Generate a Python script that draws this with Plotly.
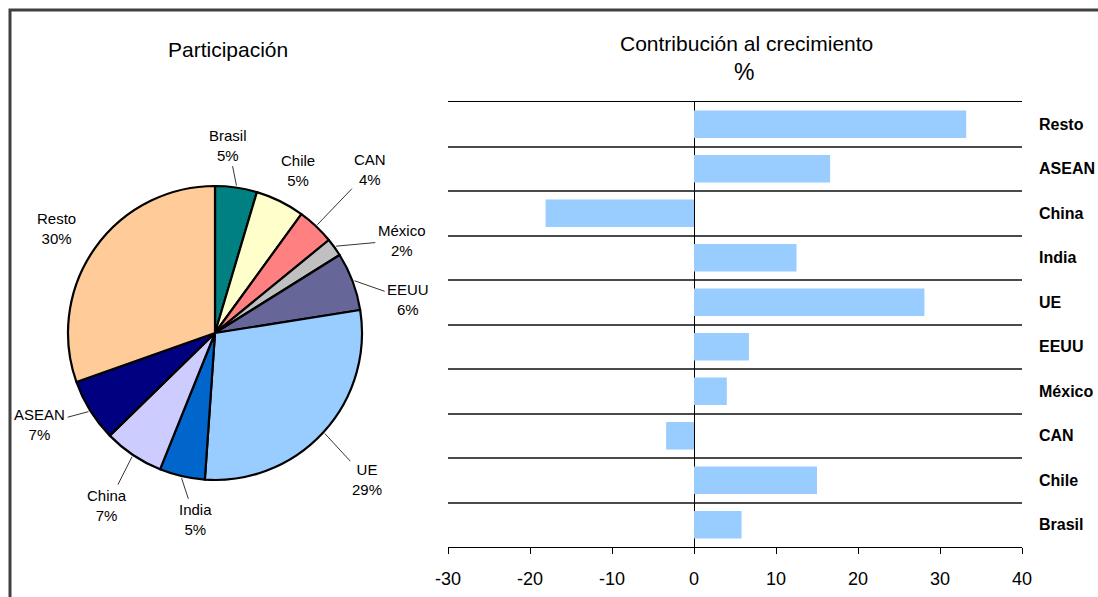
import math
import plotly.graph_objects as go

# participation shares (pie)
pie_labels = ["Brasil", "Chile", "CAN", "México", "EEUU", "UE", "India", "China", "ASEAN", "Resto"]
pie_values = [4.6, 5.4, 4.1, 2.0, 6.4, 28.6, 5.0, 6.6, 6.9, 30.4]
pie_colors = ["#008080", "#FFFFCC", "#FF8080", "#C0C0C0", "#666699",
              "#99CCFF", "#0066CC", "#CCCCFF", "#000080", "#FFCC99"]

# contribution to growth (bars), bottom to top
bar_labels = ["Brasil", "Chile", "CAN", "México", "EEUU", "UE", "India", "China", "ASEAN", "Resto"]
bar_values = [5.8, 15.0, -3.4, 4.0, 6.7, 28.1, 12.5, -18.1, 16.6, 33.2]
x_ticks = [-30, -20, -10, 0, 10, 20, 30, 40]

W, H = 1098, 597
FONT = "Liberation Sans, Arial, sans-serif"


def px_x(p):
    return p / W


def px_y(p):
    return 1 - p / H


# pie geometry in pixels
pcx, pcy, pr = 215, 333, 147
# label placement tweaks (pixels), like the hand-moved labels of the original
lab_nudge = [(-16, 14), (-7, 20), (15, -15), (21, 26), (2, 38),
             (2, 9), (26, -12), (6, 3), (-2, -16), (8, 13)]
lab_leader = [True, False, True, True, True, True, True, True, True, False]

fig = go.Figure()
fig.add_trace(go.Pie(labels=pie_labels, values=pie_values, sort=False, direction="clockwise",
                     rotation=0, textinfo="none", hoverinfo="label+percent",
                     marker=dict(colors=pie_colors, line=dict(color="black", width=2.2)),
                     domain=dict(x=[px_x(pcx - pr), px_x(pcx + pr)],
                                 y=[px_y(pcy + pr), px_y(pcy - pr)]),
                     showlegend=False))

fig.add_trace(go.Bar(x=bar_values, y=bar_labels, orientation="h",
                     marker=dict(color="#99CCFF", line=dict(width=0)),
                     xaxis="x", yaxis="y", showlegend=False))

# pie labels with leader lines, placed from the cumulative shares
annotations = []
total = sum(pie_values)
cum = 0
for lab, v, nd, lead in zip(pie_labels, pie_values, lab_nudge, lab_leader):
    mid = (cum + v / 2) / total
    cum += v
    th = 2 * math.pi * mid
    ex = pcx + (pr + 2) * math.sin(th)
    ey = pcy - (pr + 2) * math.cos(th)
    d = 55
    annotations.append(dict(
        x=px_x(ex), y=px_y(ey), xref="paper", yref="paper",
        ax=d * math.sin(th) + nd[0], ay=-d * math.cos(th) + nd[1],
        text=f"{lab}<br>{round(v / total * 100)}%", showarrow=True,
        arrowhead=0, arrowwidth=0.8, arrowcolor="black" if lead else "rgba(0,0,0,0)",
        standoff=0, startstandoff=1,
        font=dict(family=FONT, size=15, color="black"), align="center"))

annotations += [
    dict(x=px_x(228), y=px_y(50), xref="paper", yref="paper", text="Participación",
         xanchor="center", yanchor="middle", showarrow=False,
         font=dict(family=FONT, size=21, color="black")),
    dict(x=px_x(746), y=px_y(43), xref="paper", yref="paper", text="Contribución al crecimiento",
         xanchor="center", yanchor="middle", showarrow=False,
         font=dict(family=FONT, size=21, color="black")),
    dict(x=px_x(744), y=px_y(72), xref="paper", yref="paper", text="%",
         xanchor="center", yanchor="middle", showarrow=False,
         font=dict(family=FONT, size=23, color="black")),
]

fig.update_layout(
    width=W, height=H,
    margin=dict(l=0, r=0, t=0, b=0, autoexpand=False),
    paper_bgcolor="white", plot_bgcolor="white",
    bargap=0.38,
    font=dict(family=FONT, color="black"),
    xaxis=dict(domain=[px_x(448), px_x(1022)], range=[-30, 40], tickvals=x_ticks,
               ticktext=[str(t) for t in x_ticks],
               showgrid=False, zeroline=True, zerolinecolor="black", zerolinewidth=1,
               showline=True, mirror=True, linecolor="black", linewidth=1,
               ticks="outside", ticklen=6, tickcolor="black", ticklabelstandoff=9,
               tickfont=dict(family=FONT, size=18, color="black"), anchor="y"),
    yaxis=dict(domain=[px_y(547), px_y(102)], type="category", categoryorder="array",
               categoryarray=bar_labels, side="right", tickson="boundaries",
               showgrid=True, gridcolor="#4a4a4a", gridwidth=1.5, ticks="",
               ticklabelstandoff=16, anchor="x",
               tickfont=dict(family="Liberation Sans Narrow, Arial Narrow, Liberation Sans",
                             size=16, color="black", weight="bold")),
    annotations=annotations,
    shapes=[dict(type="rect", xref="paper", yref="paper",
                 x0=px_x(10), x1=px_x(W + 20), y0=px_y(H + 20), y1=px_y(10),
                 line=dict(color="#404040", width=3))],
)

fig.write_html("out.html", config={"displayModeBar": False},
               post_script="document.body.style.margin='0';")
